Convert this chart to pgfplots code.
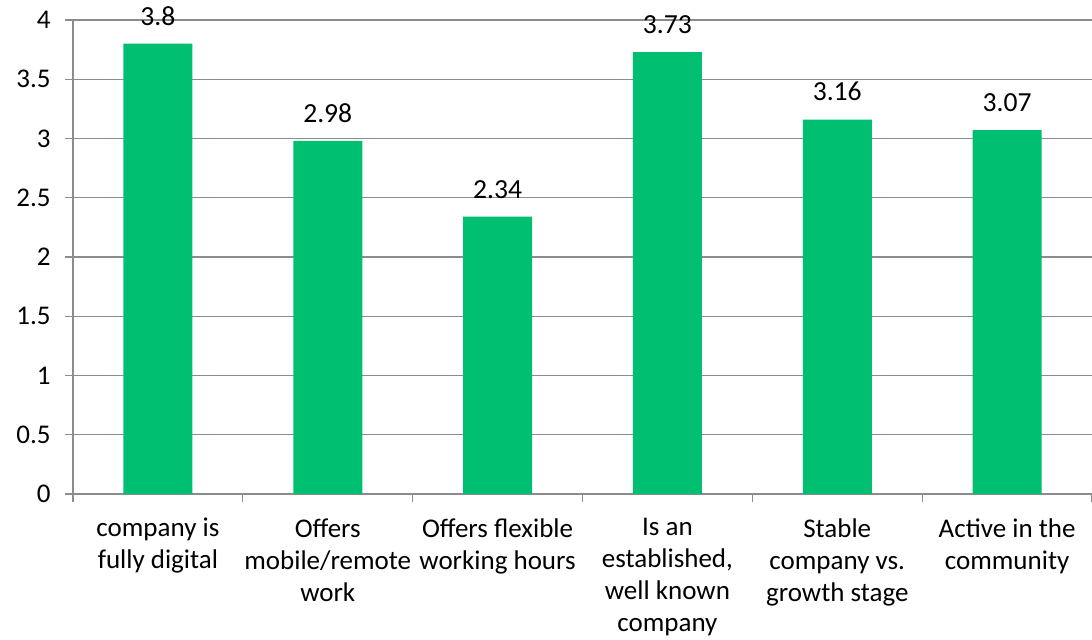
\documentclass[border=0pt]{standalone}
\usepackage{pgfplots}
\pgfplotsset{compat=1.18}
\usepackage{fontspec}
\setmainfont{Carlito}
\definecolor{bargreen}{RGB}{0,191,113}
\definecolor{gridgray}{RGB}{140,140,140}
\begin{document}
\begin{tikzpicture}
\begin{axis}[
  scale only axis,
  width=509.5pt, height=237pt,
  xmin=-0.5, xmax=5.5,
  ymin=0, ymax=4,
  ytick={0,0.5,...,4},
  yticklabels={0,0.5,1,1.5,2,2.5,3,3.5,4},
  xtick={0,...,5},
  xticklabels={{company is\\fully digital},{Offers\\mobile/remote\\work},{Offers flexible\\working hours},{Is an\\established,\\well known\\company},{Stable\\company vs.\\growth stage},{Active in the\\community}},
  minor xtick={-0.5,0.5,...,5.5},
  major x tick style={draw=none},
  tick align=outside,
  major tick length=4pt,
  minor tick length=4pt,
  tick style={gridgray, line width=0.6pt},
  ymajorgrids,
  grid style={gridgray, line width=0.6pt},
  axis line style={gridgray, line width=0.6pt},
  axis x line*=bottom,
  axis y line*=left,
  separate axis lines,
  x axis line style={-},
  y axis line style={-},
  ticklabel style={font=\fontsize{13.5}{16}\selectfont},
  xticklabel style={align=center, anchor=north, inner sep=0pt, yshift=-8pt},
  yticklabel style={anchor=east, inner sep=0pt, xshift=-7pt},
  /pgf/number format/assume math mode=true,
  clip=false,
  nodes near coords,
  every node near coord/.append style={font=\fontsize{13.8}{15}\selectfont, anchor=south, inner sep=0pt, yshift=9pt, black},
  point meta=explicit symbolic,
]
\addplot[ybar, bar width=34.5pt, fill=bargreen, draw=none] coordinates {
  (0,3.8)[3.8] (1,2.98)[2.98] (2,2.34)[2.34] (3,3.73)[3.73] (4,3.16)[3.16] (5,3.07)[3.07]
};
\end{axis}
\pgfresetboundingbox
\path[use as bounding box] ([xshift=-36.5pt,yshift=-72.5pt]current axis.south west) rectangle ([yshift=10pt]current axis.north east);
\end{tikzpicture}
\end{document}
